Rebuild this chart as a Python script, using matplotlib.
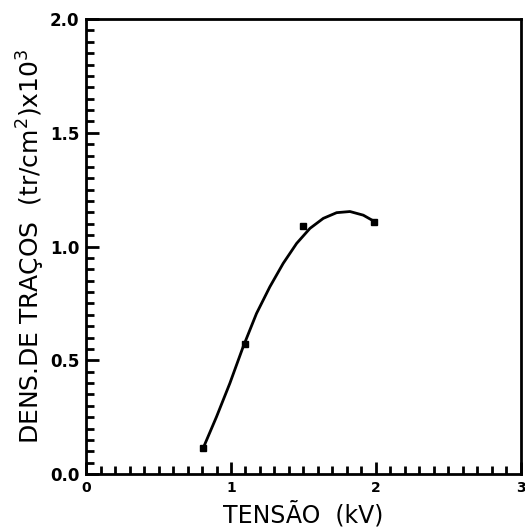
import numpy as np
import matplotlib.pyplot as plt
from matplotlib.ticker import MultipleLocator

# measured points
tensao = [0.805, 1.095, 1.497, 1.987]
densidade = [0.114, 0.571, 1.090, 1.108]

# hand drawn curve through the points
curva_x = [0.807, 0.900, 0.992, 1.084, 1.176, 1.268, 1.360, 1.453,
           1.545, 1.637, 1.729, 1.821, 1.913, 1.982]
curva_y = [0.113, 0.252, 0.399, 0.560, 0.706, 0.823, 0.926, 1.014,
           1.080, 1.124, 1.149, 1.154, 1.138, 1.113]

x_ticks = [0, 1, 2, 3]
y_ticks = [0.0, 0.5, 1.0, 1.5, 2.0]

fig = plt.figure(figsize=(5.25, 5.28), dpi=100)
ax = fig.add_axes([0.164, 0.102, 0.828, 0.862])

ax.plot(curva_x, curva_y, color='black', lw=2, solid_joinstyle='round')
ax.plot(tensao, densidade, 's', color='black', ms=4)

ax.set_xlim(0, 3)
ax.set_ylim(0, 2.0)

ax.set_xticks(x_ticks)
ax.set_xticklabels([str(t) for t in x_ticks])
ax.set_yticks(y_ticks)
ax.set_yticklabels(['%.1f' % t for t in y_ticks])
ax.xaxis.set_minor_locator(MultipleLocator(0.1))
ax.yaxis.set_minor_locator(MultipleLocator(0.05))

ax.tick_params(which='both', direction='in', width=2, top=False, right=False)
ax.tick_params(which='major', length=9)
ax.tick_params(which='minor', length=6)
ax.tick_params(axis='x', labelsize=10, pad=5)
ax.tick_params(axis='y', labelsize=12, pad=5)
for lab in ax.get_xticklabels() + ax.get_yticklabels():
    lab.set_fontweight('bold')

for s in ax.spines.values():
    s.set_linewidth(2)

ax.set_xlabel('TENSÃO  (kV)', fontsize=17, labelpad=4)
ax.set_ylabel('DENS.DE TRAÇOS  (tr/cm$^2$)x10$^3$', fontsize=18, labelpad=2)

fig.savefig('out.png', dpi=100)
